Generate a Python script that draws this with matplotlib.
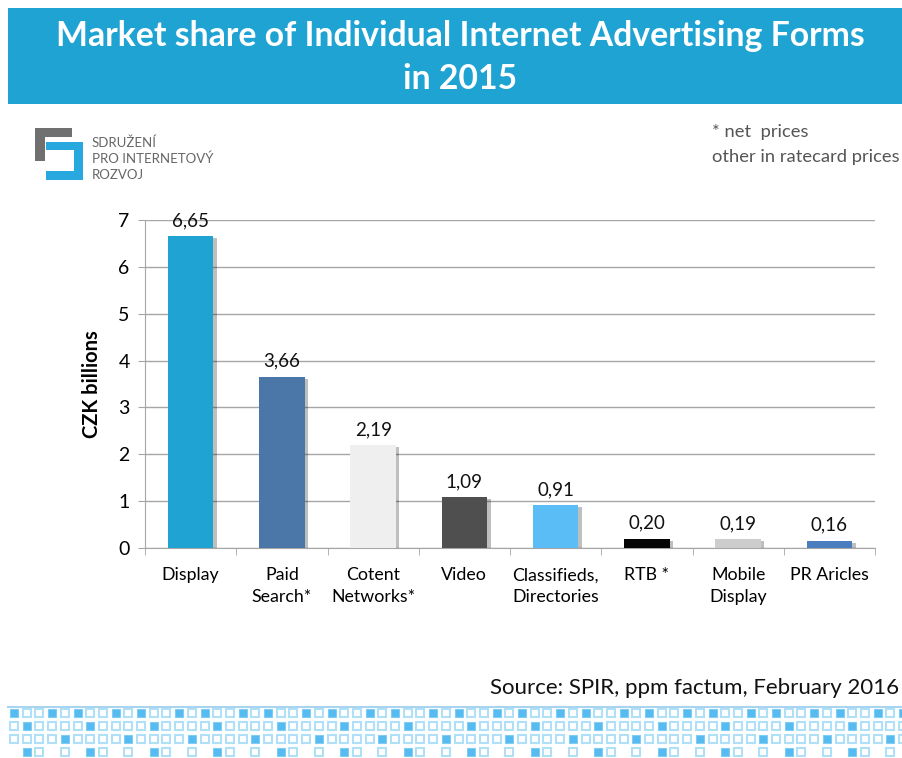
import matplotlib
matplotlib.use("Agg")
import matplotlib.pyplot as plt
import matplotlib.patches as mpatches
import matplotlib.patheffects as pe
import numpy as np

plt.rcParams['font.family'] = ['Lato', 'DejaVu Sans']

categories = ["Display", "Paid\nSearch*", "Cotent\nNetworks*", "Video",
              "Classifieds,\nDirectories", "RTB *", "Mobile\nDisplay", "PR Aricles"]
values = [6.65, 3.66, 2.19, 1.09, 0.91, 0.20, 0.19, 0.16]
value_labels = ["6,65", "3,66", "2,19", "1,09", "0,91", "0,20", "0,19", "0,16"]
bar_colors = ["#1FA3D3", "#4A76A8", "#EFEFEF", "#4F4F4F", "#5BBDF5",
              "#050505", "#CDCDCD", "#4A7EBF"]
yticks = [0, 1, 2, 3, 4, 5, 6, 7]

W, H = 902, 758
fig = plt.figure(figsize=(W / 100, H / 100), dpi=100)

# background overlay in pixel coordinates
bg = fig.add_axes([0, 0, 1, 1], zorder=0)
bg.set_xlim(0, W)
bg.set_ylim(H, 0)
bg.axis("off")

# title banner
bg.add_patch(mpatches.Rectangle((8, 8), W - 8, 96, color="#1FA3D3", lw=0))
bg.text(460, 36, "Market share of Individual Internet Advertising Forms",
        color="white", fontsize=24.3, fontweight="bold", ha="center", va="center")
bg.text(460, 79, "in 2015", color="white", fontsize=24.3, fontweight="bold",
        ha="center", va="center")

# logo
grey = "#707070"
blue = "#29A8E0"
bg.add_patch(mpatches.Rectangle((35, 128), 37, 9, color=grey, lw=0))
bg.add_patch(mpatches.Rectangle((35, 128), 10, 33, color=grey, lw=0))
bg.add_patch(mpatches.Rectangle((46, 142), 37, 8, color=blue, lw=0))
bg.add_patch(mpatches.Rectangle((74, 142), 9, 38, color=blue, lw=0))
bg.add_patch(mpatches.Rectangle((46, 171), 37, 9, color=blue, lw=0))
for i, t in enumerate(["SDRUŽENÍ", "PRO INTERNETOVÝ", "ROZVOJ"]):
    bg.text(92, 143 + i * 16, t, color="#666666", fontsize=9.5, ha="left", va="center")

# notes
bg.text(712, 132, "* net  prices", color="#555555", fontsize=13.2, ha="left", va="center")
bg.text(712, 157, "other in ratecard prices", color="#555555", fontsize=13.2, ha="left", va="center")

# source
bg.text(899, 688, "Source: SPIR, ppm factum, February 2016", color="#111111",
        fontsize=16, ha="right", va="center")

# bottom decorative pattern
bg.plot([8, W], [707, 707], color="#A8D4F0", lw=1.5)
row_y = [713, 726, 739, 752]
step = 12.7
ncols = int((W - 10) / step) + 1
for r, yy in enumerate(row_y):
    for c in range(ncols):
        x0 = 10 + c * step
        m = c % 5
        if r == 0:
            filled = m in (0, 3)
            present = True
        elif r == 1:
            filled = m == 1
            present = True
        elif r == 2:
            filled = m == 4
            present = True
        else:
            filled = m == 1
            present = m in (1, 2, 4)
        if not present:
            continue
        if filled:
            bg.add_patch(mpatches.Rectangle((x0, yy - 4), 8, 8, facecolor="#55BBF0",
                                            edgecolor="#7FCCF4", lw=0.8))
        else:
            bg.add_patch(mpatches.Rectangle((x0, yy - 4), 8, 8, facecolor="white",
                                            edgecolor="#B0E0F8", lw=1.5))

# main chart
left, right = 145 / W, 875 / W
bottom, top = 1 - 548 / H, 1 - 220 / H
ax = fig.add_axes([left, bottom, right - left, top - bottom], zorder=2)
ax.patch.set_alpha(0)
x = np.arange(len(categories))
bars = ax.bar(x, values, width=0.5, color=bar_colors, zorder=3)
for b in bars:
    b.set_path_effects([pe.SimplePatchShadow(offset=(2.5, -1.5), shadow_rgbFace="#000000", alpha=0.25),
                        pe.Normal()])
for xi, v, lab in zip(x, values, value_labels):
    ax.text(xi, v + 0.15, lab, ha="center", va="bottom", fontsize=13.5, color="#111111")

ax.set_xlim(-0.5, len(categories) - 0.5)
ax.set_ylim(0, 7)
ax.set_yticks(yticks)
ax.set_yticklabels([str(t) for t in yticks], fontsize=14)
ax.yaxis.grid(True, color="#A6A6A6", lw=1)
ax.set_axisbelow(True)
ax.set_xticks(x)
ax.set_xticklabels(categories, fontsize=12.8, linespacing=1.45)
ax.tick_params(axis="x", length=0, pad=14)
ax.set_xticks(np.arange(len(categories) + 1) - 0.5, minor=True)
ax.tick_params(axis="x", which="minor", length=5, color="#A6A6A6", direction="out")
ax.tick_params(axis="y", length=5, color="#A6A6A6", direction="out", pad=6)
for s in ["top", "right"]:
    ax.spines[s].set_visible(False)
for s in ["left", "bottom"]:
    ax.spines[s].set_color("#A6A6A6")
ax.set_ylabel("CZK billions", fontsize=14.5, fontweight="bold", labelpad=12)

fig.savefig("out.png", dpi=100)
